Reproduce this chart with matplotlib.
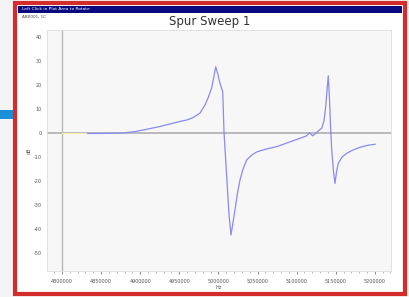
import numpy as np
import matplotlib
matplotlib.use("Agg")
import matplotlib.pyplot as plt
from matplotlib.patches import Rectangle
from matplotlib.ticker import AutoMinorLocator

# Sweep trace (Hz, dB)
freq = [4830700, 4848600, 4878000, 4893400, 4908300, 4925300, 4938100, 4950900,
        4959500, 4967500, 4976500, 4982900, 4987300, 4991400, 4994400, 4996600,
        4999500, 5002000, 5005500, 5007200, 5010600, 5013600, 5016100, 5018700,
        5021200, 5024400, 5027600, 5031500, 5036200, 5042600, 5049000, 5060900,
        5074600, 5095800, 5112900, 5116200, 5120600, 5126100, 5132100, 5135000,
        5137200, 5138900, 5140500, 5142100, 5143400, 5144900, 5147200, 5149100,
        5151000, 5153300, 5158100, 5164100, 5172100, 5181100, 5190000, 5200300]
level = [0.0, 0.0, 0.2, 0.8, 1.75, 2.9, 3.96, 5.0,
         5.6, 6.6, 8.5, 11.9, 15.2, 19.0, 24.0, 27.8,
         24.4, 20.9, 17.4, 0.2, -18.0, -34.0, -42.3, -36.9,
         -31.9, -24.8, -19.4, -14.8, -11.0, -9.0, -7.7, -6.5,
         -5.5, -3.0, -1.0, 0.3, -1.0, 0.6, 2.2, 5.2,
         11.2, 18.1, 24.0, 14.0, 2.8, -6.9, -16.0, -20.8,
         -16.0, -12.4, -9.8, -8.25, -6.9, -5.75, -5.0, -4.5]

# short reference segment before the sweep starts
ref_freq = [4800000, 4830700]
ref_level = [0, 0]

xticks = [4800000, 4850000, 4900000, 4950000, 5000000, 5050000, 5100000, 5150000, 5200000]
yticks = [40, 30, 20, 10, 0, -10, -20, -30, -40, -50]

W, H = 409, 297
fig = plt.figure(figsize=(W / 100, H / 100), dpi=100)
fig.patch.set_facecolor("white")

def rect(x0, y0, x1, y1, **kw):
    # rectangle in pixel coords (top-left origin), kept behind the axes
    fig.patches.append(Rectangle((x0 / W, 1 - y1 / H), (x1 - x0) / W, (y1 - y0) / H,
                                 transform=fig.transFigure, figure=fig, zorder=-5, **kw))

# desktop bits outside the window
rect(0, 0, W, H, facecolor="#f4f4f4", edgecolor="none")
rect(0, 110, 15, 119, facecolor="#1a8fd8", edgecolor="none")
# window frame
rect(15, 3, 405, 294, facecolor="white", edgecolor="#d42b2b", linewidth=3)
rect(18, 6, 402, 13, facecolor="#0a0a80", edgecolor="none")
fig.text(22 / W, 1 - 9.5 / H, "Left Click in Plot Area to Rotate", color="white",
         fontsize=3.2, va="center")
fig.text(22 / W, 1 - 17 / H, "AB0001, 1C", color="#444444", fontsize=3, va="center")
fig.text(210 / W, 1 - 21 / H, "Spur Sweep 1", fontsize=8.5, ha="center", va="center",
         color="#333333")

ax = fig.add_axes([47 / W, 1 - 271 / H, 344 / W, 241 / H])
ax.set_zorder(2)
ax.set_facecolor("#f7f7f7")
ax.plot(freq, level, color="#8a8af0", linewidth=0.9)
ax.plot(ref_freq, ref_level, color="#f2f0a8", linewidth=0.9)
ax.axhline(0, color="#a8a8a8", linewidth=1.1, zorder=0)
ax.axvline(4800000, color="#b8b8b8", linewidth=1.0, zorder=0)

ax.set_xlim(4780800, 5220700)
ax.set_ylim(-57.3, 43.1)
ax.set_xticks(xticks)
ax.set_xticklabels([str(v) for v in xticks])
ax.set_yticks(yticks)
ax.set_yticklabels([str(v) for v in yticks])
ax.xaxis.set_minor_locator(AutoMinorLocator(5))
ax.tick_params(labelsize=3.5, colors="#555555", length=2, width=0.5)
ax.tick_params(which="minor", length=1.5, width=0.4, colors="#888888")
ax.tick_params(axis="y", length=0)
ax.set_xlabel("Hz", fontsize=3.5, color="#555555", labelpad=1)
ax.set_ylabel("dB", fontsize=3.5, color="#555555", labelpad=2)
for s in ax.spines.values():
    s.set_color("#dddddd")
    s.set_linewidth(0.6)

fig.savefig("out.png", dpi=100)
